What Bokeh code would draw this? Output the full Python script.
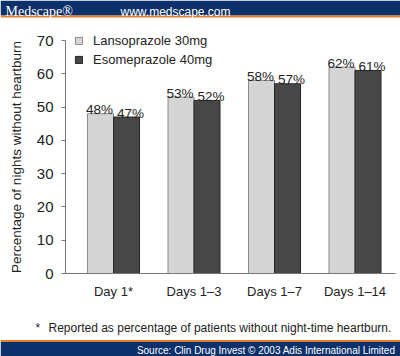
from bokeh.plotting import figure
from bokeh.models import Range1d, FixedTicker, Legend, LegendItem, ColumnDataSource, LinearAxis
from bokeh.embed import file_html
from bokeh.resources import INLINE
from bokeh.core.properties import value
import numpy as np

# ---- data ----
categories = ["Day 1*", "Days 1\u20133", "Days 1\u20137", "Days 1\u201314"]
lansoprazole = [48, 53, 58, 62]
esomeprazole = [47, 52, 57, 61]
series_names = ["Lansoprazole 30mg", "Esomeprazole 40mg"]
y_ticks = [0, 10, 20, 30, 40, 50, 60, 70]
y_title = "Percentage of nights without heartburn"
footnote = "Reported as percentage of patients without night-time heartburn."
source_text = "Source: Clin Drug Invest \u00a9 2003 Adis International Limited"
brand = "Medscape\u00ae"
site = "www.medscape.com"

FONT = "Liberation Sans"
NAVY = "#0c306a"
ORANGE = "#e57a2b"
LIGHT = "#d5d5d5"
DARK = "#474747"
TXT = "#222222"
AXIS = "#777777"

W, H = 400, 356
# layout in canvas pixels
PLOT_L, PLOT_R, PLOT_T, PLOT_B = 65, 395, 40, 273
Y_MAX = 70
PXU_Y = (PLOT_B - PLOT_T) / Y_MAX       # pixels per percent
PXU_X = 80.5                            # pixels per category
CENTER0 = 113                           # pixel x of first category centre

x_start = -CENTER0 / PXU_X
x_end = (W - CENTER0) / PXU_X
y_start = -(H - PLOT_B) / PXU_Y
y_end = Y_MAX + PLOT_T / PXU_Y


def X(px):
    return x_start + px / PXU_X


def Y(py):
    return y_end - py / PXU_Y


idx = np.arange(len(categories))
bw = 26 / PXU_X

src_l = ColumnDataSource(dict(x=idx - bw / 2, top=lansoprazole,
                              label=[f"{v}%" for v in lansoprazole]))
src_e = ColumnDataSource(dict(x=idx + bw / 2, top=esomeprazole,
                              label=[f"{v}%" for v in esomeprazole]))

p = figure(width=W, height=H, x_range=Range1d(x_start, x_end), y_range=Range1d(y_start, y_end),
           output_backend="svg", toolbar_location=None, min_border=0,
           x_axis_location=None, y_axis_location=None,
           background_fill_color="white", border_fill_color="white", outline_line_color=None)
p.grid.visible = False

# ---- banners ----
p.quad(left=[X(0)], right=[X(W)], top=[Y(0)], bottom=[Y(15)], fill_color=NAVY, line_color=None)
p.quad(left=[X(0)], right=[X(W)], top=[Y(15)], bottom=[Y(17)], fill_color=ORANGE, line_color=None)
p.quad(left=[X(0)], right=[X(W)], top=[Y(339.5)], bottom=[Y(341.5)], fill_color=ORANGE, line_color=None)
p.quad(left=[X(0)], right=[X(W)], top=[Y(341.5)], bottom=[Y(H)], fill_color=NAVY, line_color=None)
p.text(x=[X(5)], y=[Y(11)], text=[brand], text_font=value("Liberation Serif"),
       text_font_size="14px", text_color="white", text_baseline="alphabetic")
p.text(x=[X(120)], y=[Y(11)], text=[site], text_font=value(FONT),
       text_font_size="12px", text_color="white", text_baseline="alphabetic")
p.text(x=[X(395)], y=[Y(349.5)], text=[source_text], text_font=value(FONT), text_font_size="10px",
       text_color="white", text_align="right", text_baseline="middle")

# ---- footnote ----
p.text(x=[X(35)], y=[Y(327)], text=["*"], text_font=value(FONT), text_font_size="12px",
       text_color=TXT, text_baseline="alphabetic")
p.text(x=[X(48)], y=[Y(327)], text=[footnote], text_font=value(FONT), text_font_size="12px",
       text_color=TXT, text_baseline="alphabetic")

# ---- bars ----
r_l = p.vbar(x="x", top="top", bottom=0, width=bw, source=src_l,
             fill_color=LIGHT, line_color="#8a8a8a", line_width=1)
r_e = p.vbar(x="x", top="top", bottom=0, width=bw, source=src_e,
             fill_color=DARK, line_color="#262626", line_width=1)

p.text(x="x", y="top", text="label", source=src_l, text_align="center", x_offset=-1,
       text_baseline="alphabetic", y_offset=-4, text_font=value(FONT),
       text_font_size="13.5px", text_color=TXT)
p.text(x="x", y="top", text="label", source=src_e, text_align="center", x_offset=4,
       text_baseline="alphabetic", y_offset=-4, text_font=value(FONT),
       text_font_size="13.5px", text_color=TXT)

# ---- axes ----
yaxis = LinearAxis(fixed_location=X(PLOT_L), bounds=(0, Y_MAX))
yaxis.ticker = FixedTicker(ticks=y_ticks)
yaxis.major_tick_out = 4
yaxis.major_tick_in = 0
yaxis.minor_tick_line_color = None
yaxis.axis_line_color = AXIS
yaxis.major_tick_line_color = AXIS
yaxis.major_label_text_font = FONT
yaxis.major_label_text_font_size = "15px"
yaxis.major_label_text_color = TXT
yaxis.major_label_standoff = 8
yaxis.axis_label = y_title
yaxis.axis_label_text_font = FONT
yaxis.axis_label_text_font_style = "normal"
yaxis.axis_label_text_font_size = "13.5px"
yaxis.axis_label_text_color = TXT
yaxis.axis_label_standoff = 10
p.add_layout(yaxis, "left")

xaxis = LinearAxis(fixed_location=0, bounds=(X(PLOT_L), X(PLOT_R)))
xaxis.ticker = FixedTicker(ticks=[int(i) for i in idx])
xaxis.major_label_overrides = {int(i): c for i, c in zip(idx, categories)}
xaxis.major_tick_line_color = None
xaxis.major_tick_out = 0
xaxis.major_tick_in = 0
xaxis.minor_tick_line_color = None
xaxis.axis_line_color = AXIS
xaxis.major_label_text_font = FONT
xaxis.major_label_text_font_size = "13px"
xaxis.major_label_text_color = TXT
xaxis.major_label_standoff = 10
p.add_layout(xaxis, "below")

# ---- legend ----
legend = Legend(items=[LegendItem(label=series_names[0], renderers=[r_l]),
                       LegendItem(label=series_names[1], renderers=[r_e])],
                location=(74, H - 66.5), orientation="vertical",
                glyph_width=9, glyph_height=9, label_height=15, spacing=4,
                padding=0, margin=0, label_standoff=10,
                border_line_color=None, background_fill_alpha=0,
                label_text_font=FONT, label_text_font_size="13px",
                label_text_color=TXT)
p.add_layout(legend)

open("out.html", "w").write(file_html(p, INLINE))
